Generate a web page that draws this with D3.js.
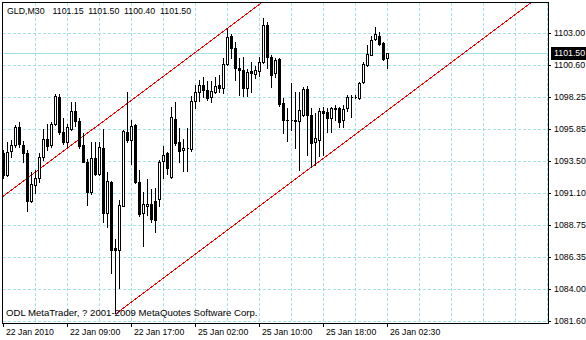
<!DOCTYPE html>
<html><head><meta charset="utf-8">
<script src="https://cdn.jsdelivr.net/npm/d3@7"></script>
<style>
html,body{margin:0;padding:0;background:#fff;}
svg{display:block;}
text{font-family:"Liberation Sans",Arial,sans-serif;fill:#000;}
</style></head><body>
<svg id="chart" width="586" height="340"></svg>
<script>
const symbol = "GLD,M30";
const copyright = "ODL MetaTrader, ? 2001-2009 MetaQuotes Software Corp.";

const opens = [1094.08,1092.45,1094.23,1094.68,1095.98,1094.68,1094.08,1090.48,1091.71,1092.26,
1093.75,1095.09,1094.68,1096.27,1098.28,1095.68,1094.90,1095.90,1097.17,1096.46,
1094.68,1093.45,1091.15,1093.71,1092.52,1094.45,1089.66,1091.93,1086.99,1086.91,
1090.18,1095.68,1095.05,1096.13,1091.93,1089.63,1090.18,1090.33,1090.52,1090.67,
1093.49,1094.06,1092.32,1096.61,1094.92,1094.28,1094.43,1094.38,1097.95,1098.64,
1099.14,1098.77,1098.27,1098.64,1099.14,1098.89,1100.67,1102.80,1101.91,1100.42,
1100.25,1098.94,1100.18,1099.93,1100.18,1100.87,1103.59,1101.24,1100.00,1101.05,
1097.78,1096.57,1096.54,1096.57,1096.48,1096.91,1098.84,1096.91,1094.92,1095.05,
1097.20,1097.15,1096.66,1097.45,1097.40,1096.54,1097.40,1098.27,1098.27,1098.15,
1099.38,1100.62,1101.37,1102.52,1102.78,1102.22,1101.15];
const highs = [1094.31,1094.90,1095.05,1096.16,1096.39,1094.97,1094.31,1092.67,1092.82,1094.08,
1095.87,1096.24,1096.42,1098.47,1098.50,1096.72,1096.24,1097.87,1097.87,1096.68,
1095.57,1093.64,1094.90,1094.90,1094.90,1095.87,1092.67,1092.00,1087.73,1090.59,
1095.79,1098.62,1096.54,1096.24,1092.82,1091.15,1092.15,1091.41,1091.48,1093.56,
1094.60,1094.18,1097.52,1097.90,1095.92,1095.12,1095.96,1098.34,1099.14,1099.51,
1099.75,1099.43,1099.43,1099.75,1099.88,1101.12,1103.39,1102.90,1102.35,1101.14,
1101.24,1100.33,1100.87,1100.55,1101.24,1104.09,1103.84,1101.37,1101.12,1101.12,
1098.17,1097.43,1099.26,1098.64,1098.62,1099.01,1099.06,1097.45,1097.06,1097.45,
1097.52,1097.40,1097.52,1097.65,1097.52,1097.65,1098.39,1098.39,1098.39,1099.36,
1100.82,1102.11,1102.78,1103.45,1103.10,1102.35,1101.50];
const lows = [1092.23,1092.37,1093.79,1094.53,1094.53,1093.42,1089.74,1090.44,1091.11,1091.93,
1093.56,1094.31,1094.53,1096.16,1095.53,1094.75,1094.53,1095.79,1096.09,1094.45,
1093.42,1090.22,1091.07,1092.45,1092.45,1088.96,1088.62,1085.20,1082.16,1084.05,
1090.15,1094.90,1093.27,1091.85,1089.40,1087.14,1089.48,1088.96,1088.25,1090.11,
1092.20,1092.50,1092.20,1094.68,1093.44,1092.75,1092.75,1094.23,1097.40,1097.95,
1098.27,1098.02,1097.90,1098.52,1098.64,1098.52,1100.62,1101.17,1099.51,1098.39,
1098.34,1098.34,1098.64,1099.63,1099.80,1100.75,1100.42,1099.01,1099.75,1097.58,
1095.59,1095.00,1095.79,1094.43,1092.82,1096.84,1093.94,1093.07,1093.19,1093.88,
1093.94,1095.67,1095.67,1096.54,1096.04,1095.99,1097.20,1096.74,1098.15,1098.10,
1099.26,1100.57,1101.33,1102.48,1102.11,1100.99,1100.40];
const closes = [1092.45,1094.16,1094.68,1095.98,1094.75,1094.08,1090.48,1091.78,1092.26,1093.75,
1095.09,1094.64,1096.27,1098.32,1095.68,1094.90,1095.98,1097.20,1096.46,1094.57,
1093.45,1091.15,1093.71,1092.52,1094.53,1089.66,1091.97,1086.91,1086.88,1090.22,
1095.72,1095.05,1096.09,1091.95,1089.55,1090.26,1090.33,1089.18,1089.10,1093.44,
1093.94,1092.95,1096.78,1094.80,1094.23,1094.43,1094.43,1097.95,1098.59,1099.14,
1098.77,1098.19,1098.69,1099.08,1098.89,1100.67,1102.73,1101.91,1100.42,1100.25,
1098.94,1100.12,1100.01,1100.25,1100.82,1103.59,1101.24,1099.88,1100.99,1097.70,
1096.54,1096.54,1096.54,1096.46,1097.28,1098.84,1096.91,1094.80,1095.18,1097.20,
1097.03,1096.66,1097.40,1097.35,1096.41,1097.35,1098.27,1098.27,1098.27,1099.32,
1100.70,1101.42,1102.50,1102.89,1102.16,1101.05,1101.50];

const xTickIndex = [0,16,32,48,64,80,96];
const xTickLabels = ["22 Jan 2010","22 Jan 09:00","22 Jan 17:00","25 Jan 02:00","25 Jan 10:00","25 Jan 18:00","26 Jan 02:30"];
const xGridStep = 8;
const yTickValues = [1081.60,1084.00,1086.35,1088.75,1091.10,1093.50,1095.85,1098.25,1100.60,1103.00];
const lastPrice = 1101.50;
// channel lines: [bar index, price]
const channelLower = [[28,1082.16],[77,1093.07]];
const channelUpper = [[0,1090.92],[56,1103.39]];

const W = 586, H = 340;
const plot = {left:2, right:548, top:2, bottom:323};
const svg = d3.select('#chart');

const x = d3.scaleLinear().domain([0,96]).rangeRound([3,387]);
const y = d3.scaleLinear().domain([1081.6,1103.0]).rangeRound([321,33]);
const fmt = d3.format('.2f');

svg.append('rect').attr('width',W).attr('height',H).attr('fill','#fff');

const defs = svg.append('defs');
defs.append('clipPath').attr('id','clip').append('rect')
  .attr('x',plot.left+1).attr('y',plot.top+1)
  .attr('width',plot.right-plot.left-1).attr('height',plot.bottom-plot.top-1);

const gridColor = '#a6e2e4';
// vertical grid
const xMaxIdx = x.invert(plot.right);
const vIdx = d3.range(xGridStep, Math.floor(xMaxIdx)+1, xGridStep);
svg.append('g').selectAll('line').data(vIdx).join('line')
  .attr('x1',d=>x(d)+0.5).attr('x2',d=>x(d)+0.5)
  .attr('y1',plot.top+1).attr('y2',plot.bottom)
  .attr('stroke',gridColor).attr('stroke-dasharray','3,2')
  .attr('shape-rendering','crispEdges');
// horizontal grid
svg.append('g').selectAll('line').data(yTickValues).join('line')
  .attr('x1',plot.left+1).attr('x2',plot.right)
  .attr('y1',d=>y(d)+0.5).attr('y2',d=>y(d)+0.5)
  .attr('stroke',gridColor).attr('stroke-dasharray','3,2')
  .attr('shape-rendering','crispEdges');
// current price line
svg.append('line')
  .attr('x1',plot.left+1).attr('x2',plot.right)
  .attr('y1',y(lastPrice)+0.5).attr('y2',y(lastPrice)+0.5)
  .attr('stroke','#a0e2e8').attr('shape-rendering','crispEdges');

// channel lines
const cg = svg.append('g').attr('clip-path','url(#clip)');
function extend(pts, i0, i1){
  const [a,b] = pts;
  const s = (b[1]-a[1])/(b[0]-a[0]);
  return [[i0, a[1]+s*(i0-a[0])],[i1, a[1]+s*(i1-a[0])]];
}
const yLin = d3.scaleLinear().domain(y.domain()).range(y.range());
const xLin = d3.scaleLinear().domain(x.domain()).range(x.range());
[[channelLower, channelLower[0][0], 200],[channelUpper, -20, 200]].forEach(([pts,i0,i1])=>{
  const seg = extend(pts,i0,i1);
  cg.append('line')
    .attr('x1',xLin(seg[0][0])+0.5).attr('y1',yLin(seg[0][1])+0.5)
    .attr('x2',xLin(seg[1][0])+0.5).attr('y2',yLin(seg[1][1])+0.5)
    .attr('stroke','#ff0000').attr('stroke-width',1)
    .attr('shape-rendering','crispEdges');
});

// candles
const candles = opens.map((o,i)=>({i,o,h:highs[i],l:lows[i],c:closes[i]}));
const kg = svg.append('g').attr('clip-path','url(#clip)').attr('shape-rendering','crispEdges');
candles.forEach(d=>{
  const cx = x(d.i);
  const yo=y(d.o), yc=y(d.c), yh=y(d.h), yl=y(d.l);
  const top=Math.min(yo,yc), bot=Math.max(yo,yc);
  kg.append('line').attr('x1',cx+0.5).attr('x2',cx+0.5)
    .attr('y1',yh).attr('y2',yl+1).attr('stroke','#000');
  if (d.c >= d.o) {
    kg.append('path')
      .attr('d',`M${cx-0.5},${top+0.5}h2v${bot-top}h-2z`)
      .attr('fill','#fff').attr('stroke','#000');
  } else {
    kg.append('rect').attr('x',cx-1).attr('y',top)
      .attr('width',3).attr('height',bot-top+1).attr('fill','#000');
  }
});

// frame
svg.append('path')
  .attr('d',`M${plot.left+0.5},${plot.bottom+0.5}V${plot.top+0.5}H${plot.right+0.5}V${plot.bottom+0.5}Z`)
  .attr('fill','none').attr('stroke','#000').attr('shape-rendering','crispEdges');

// y axis
const yAxis = d3.axisRight(y).tickValues(yTickValues).tickSize(3).tickPadding(3).tickFormat(fmt);
const yg = svg.append('g').attr('transform',`translate(${plot.right},0)`).call(yAxis);
yg.select('.domain').remove();
yg.selectAll('line').attr('stroke','#000').attr('shape-rendering','crispEdges');
yg.selectAll('text').attr('font-size','8.8px').attr('font-family','Liberation Sans, Arial, sans-serif').attr('fill','#000');

// price label
const pl = svg.append('g');
pl.append('rect').attr('x',plot.right+3).attr('y',y(lastPrice)-6)
  .attr('width',W-plot.right-3).attr('height',13).attr('fill','#000');
pl.append('text').attr('x',plot.right+6).attr('y',y(lastPrice)+0.5).attr('dy','0.32em')
  .attr('font-size','8.8px').style('fill','#fff').text(fmt(lastPrice));

// x axis
const xAxis = d3.axisBottom(x).tickValues(xTickIndex).tickSize(4)
  .tickFormat((d,k)=>xTickLabels[k]);
const xg = svg.append('g').attr('transform',`translate(0,${plot.bottom})`).call(xAxis);
xg.select('.domain').remove();
xg.selectAll('line').attr('stroke','#000').attr('shape-rendering','crispEdges');
xg.selectAll('text').attr('text-anchor','start').attr('x',2.5).attr('y',12.3).attr('dy',0)
  .attr('font-size','8.7px').attr('font-family','Liberation Sans, Arial, sans-serif').attr('fill','#000');

// header
const headerTexts = [symbol, fmt(opens[96]), fmt(highs[96]), fmt(lows[96]), fmt(closes[96])];
const headerX = [7, 52.5, 88.2, 124, 160];
svg.append('g').selectAll('text').data(headerTexts).join('text')
  .attr('x',(d,k)=>headerX[k]).attr('y',14.3).attr('font-size','8.8px').text(d=>d);

// copyright
svg.append('text').attr('x',6).attr('y',316.3).attr('font-size','9.6px').text(copyright);
</script>
</body></html>
